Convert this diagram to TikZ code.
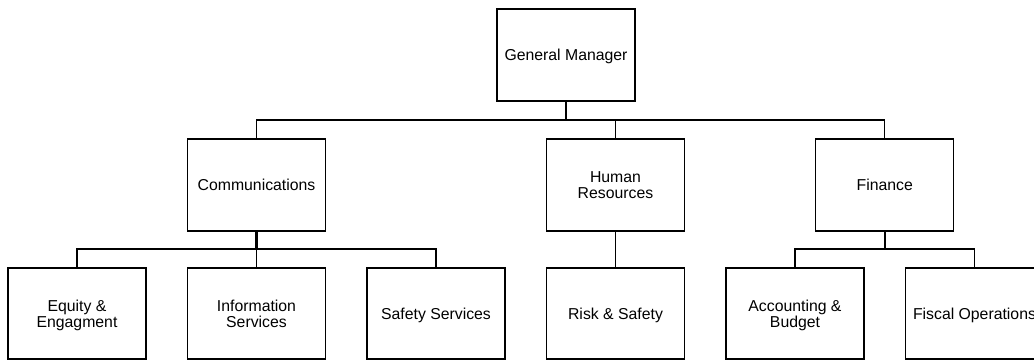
\documentclass[tikz,border=0pt]{standalone}
\usepackage{fontspec}
\setmainfont{Liberation Sans}
\begin{document}
\begin{tikzpicture}[x=1pt,y=-1pt,
  orgbox/.style={draw=black,line width=1.4pt,fill=white,minimum width=138pt,inner sep=0pt,
    align=center,font=\fontsize{15.8}{15.7}\selectfont,text depth=0pt},
  topbox/.style={orgbox,minimum height=92pt},
  midbox/.style={orgbox,minimum height=92pt},
  lowbox/.style={orgbox,minimum height=91pt},
  link/.style={draw=black,line width=1.4pt},
  drop/.style={draw=black,line width=2.2pt}]
\useasboundingbox (0,0) rectangle (1034,360);
\clip (0,0) rectangle (1034,360);
\fill[white] (0,0) rectangle (1034,360);
% nodes
\node[topbox] (gm) at (566,55) {General Manager};
\node[midbox] (comm) at (256.5,185) {Communications};
\node[midbox] (hr) at (615.5,185) {Human\\Resources};
\node[midbox] (fin) at (884.75,185) {Finance};
\node[lowbox] (eq) at (77,313.5) {Equity \&\\Engagment};
\node[lowbox] (info) at (256.5,313.5) {Information\\Services};
\node[lowbox] (saf) at (436,313.5) {Safety Services};
\node[lowbox] (risk) at (615.5,313.5) {Risk \& Safety};
\node[lowbox] (acc) at (795,313.5) {Accounting \&\\Budget};
\node[lowbox] (fis) at (974.5,313.5) {Fiscal Operations};
% bus coordinates
\coordinate (busA) at (566,120);
\coordinate (busB) at (256.5,249);
\coordinate (busC) at (884.75,249);
% connectors
\draw[drop] (gm.south) -- (busA);
\draw[link] (comm.north) |- (busA) -| (fin.north);
\draw[link] (hr.north) -- (hr.north |- busA);
\draw[drop] (comm.south) -- (busB);
\draw[link] (eq.north) |- (busB) -| (saf.north);
\draw[link] (info.north) -- (info.north |- busB);
\draw[link] (hr.south) -- (risk.north);
\draw[drop] (fin.south) -- (busC);
\draw[link] (acc.north) |- (busC) -| (fis.north);
\end{tikzpicture}
\end{document}
